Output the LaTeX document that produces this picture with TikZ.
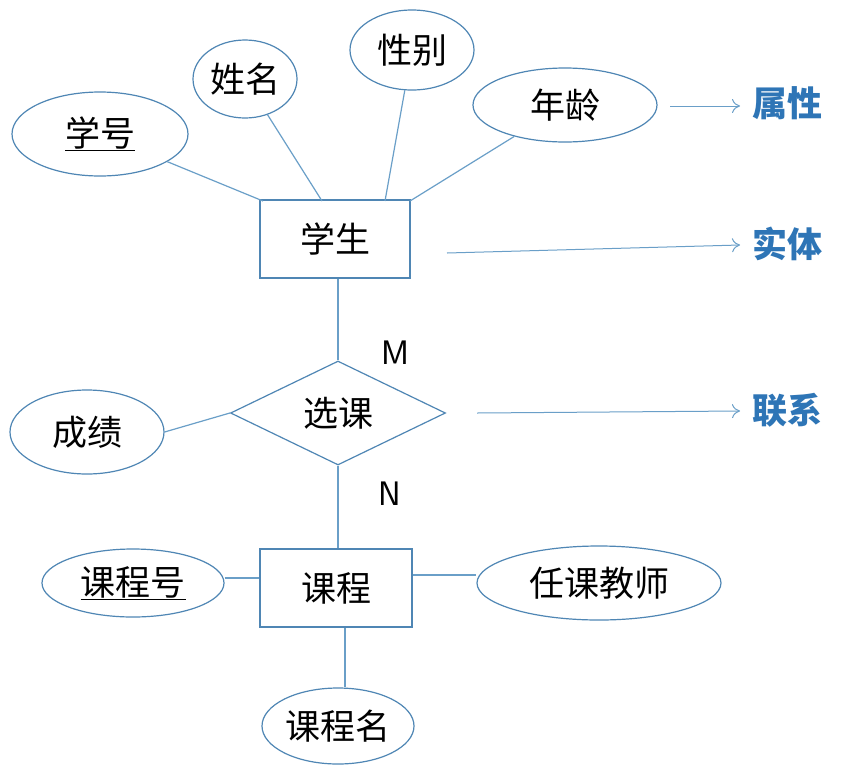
\documentclass[tikz,border=0pt]{standalone}
\usepackage{fontspec}
\setmainfont{Noto Sans CJK SC}
\usetikzlibrary{shapes.geometric,arrows.meta}
\definecolor{edgeblue}{HTML}{6A9FC8}
\definecolor{outlineblue}{HTML}{4F86B4}
\definecolor{labelblue}{HTML}{2E75B6}
\tikzset{
  x=1pt,y=-1pt,
  attr/.style={draw=outlineblue,line width=1.2pt,ellipse,inner sep=0pt,font=\fontsize{35}{35}\selectfont},
  ent/.style={draw=outlineblue,line width=1.2pt,rectangle,inner sep=0pt,font=\fontsize{35}{35}\selectfont},
  rel/.style={draw=outlineblue,line width=1.2pt,diamond,inner sep=0pt,font=\fontsize{35}{35}\selectfont},
  conn/.style={draw=edgeblue,line width=1.2pt},
  pointer/.style={draw=edgeblue,line width=1pt,-{To[length=8pt,width=14pt]}},
  legend/.style={text=labelblue,font=\fontsize{35}{35}\selectfont\bfseries},
  card/.style={font=\fontsize{34}{34}\selectfont\sffamily}
}
\begin{document}
\begin{tikzpicture}
\useasboundingbox (0,0) rectangle (865,780);
\fill[white] (0,0) rectangle (865,780);
% entities
\node[ent,minimum width=150pt,minimum height=78pt] (stu) at (335,239) {学生};
\node[ent,minimum width=152pt,minimum height=78pt] (course) at (336,588) {课程};
\node[rel,minimum width=215pt,minimum height=104pt] (sel) at (338,413) {选课};
% attributes
\node[attr,minimum width=176pt,minimum height=84pt] (sno) at (100,134) {\underline{学号}};
\node[attr,minimum width=104pt,minimum height=78pt] (sname) at (245,79) {姓名};
\node[attr,minimum width=124pt,minimum height=80pt] (sex) at (412,50) {性别};
\node[attr,minimum width=184pt,minimum height=74pt] (age) at (565,105) {年龄};
\node[attr,minimum width=154pt,minimum height=84pt] (grade) at (87,432) {成绩};
\node[attr,minimum width=182pt,minimum height=68pt] (cno) at (133,583) {\underline{课程号}};
\node[attr,minimum width=244pt,minimum height=74pt] (teacher) at (599,583) {任课教师};
\node[attr,minimum width=152pt,minimum height=76pt] (cname) at (338,726) {课程名};
% connectors
\coordinate (stuTL) at (263,201);
\coordinate (stuA) at (322,201);
\coordinate (stuB) at (385,201);
\coordinate (stuC) at (410,201);
\draw[conn] (sno) -- (stuTL);
\draw[conn] (sname) -- (stuA);
\draw[conn] (sex) -- (stuB);
\draw[conn] (age) -- (stuC);
\draw[conn] (stu.south -| sel.north) -- (sel.north);
\draw[conn] (sel.south) -- (sel.south |- course.north);
\draw[conn] (grade.east) -- (sel.west);
\draw[conn] (cno.east |- 0,578) -- (course.west |- 0,578);
\draw[conn] (course.east |- 0,575) -- (teacher.west |- 0,575);
\draw[conn] (course.south -| 345,0) -- (cname.north -| 345,0);
% cardinalities
\node[card] (m) at (395,353) {M};
\node[card] (n) at (390,494) {N};
% legend
\node[legend] (lattr) at (787,103) {属性};
\node[legend] (lent) at (787,244) {实体};
\node[legend] (lrel) at (787,410) {联系};
\coordinate (p1) at (670,106);
\coordinate (p2) at (447,253);
\coordinate (p3) at (477,413);
\draw[pointer] (p1) -- (740,106);
\draw[pointer] (p2) -- (740,245);
\draw[pointer] (p3) -- (740,411);
\end{tikzpicture}
\end{document}
